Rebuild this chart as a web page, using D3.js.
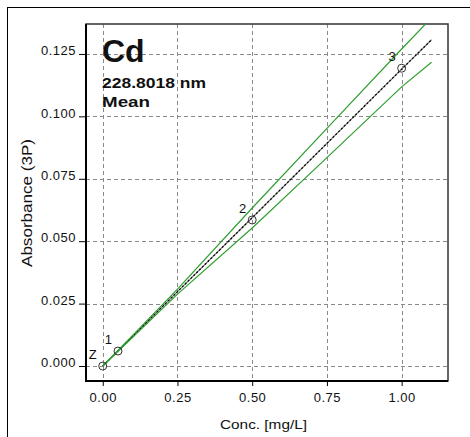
<!DOCTYPE html>
<html>
<head>
    <meta charset="UTF-8">
    <style>
        body { margin: 0; background: #fff; }
        text { font-family: "Liberation Sans", Arial, sans-serif; fill: #111; }
        .tick-label { font-size: 13px; letter-spacing: 0.5px; }
        .grid line { stroke: #8a8a8a; stroke-dasharray: 4,3; }
    </style>
</head>
<body>
<script src="https://cdn.jsdelivr.net/npm/d3@7/dist/d3.min.js"></script>
<script>
// standards
var pointLabels = ["Z", "1", "2", "3"];
var pointConc = [0.0, 0.051, 0.5, 1.0];
var pointAbs = [0.0, 0.006, 0.0585, 0.1193];

// calibration line and confidence limits
var lineConc = [0.0, 0.1, 0.25, 0.5, 0.75, 1.0, 1.1];
var lineAbs = [0.0, 0.0119, 0.0298, 0.0594, 0.0892, 0.1189, 0.1307];
var upperAbs = [0.0, 0.0123, 0.0308, 0.0633, 0.0952, 0.1270, 0.1395];
var lowerAbs = [0.0, 0.0115, 0.0288, 0.0553, 0.0835, 0.1118, 0.1217];

var xTicks = [0, 0.25, 0.5, 0.75, 1.0];
var yTicks = [0, 0.025, 0.05, 0.075, 0.1, 0.125];

var width = 470, height = 437;
var pL = 86, pR = 448, pT = 24, pB = 381;

var svg = d3.select("body").append("svg").attr("width", width).attr("height", height);

// outer window frame
svg.append("rect").attr("x", 7.5).attr("y", 7.5).attr("width", 480).attr("height", 450)
    .attr("fill", "#fff").attr("stroke", "#000").attr("stroke-width", 1);

var x = d3.scaleLinear().domain([-0.056, 1.155]).range([pL, pR]);
var y = d3.scaleLinear().domain([-0.006, 0.137]).range([pB, pT]);

svg.append("defs").append("clipPath").attr("id", "plot-clip")
    .append("rect").attr("x", pL).attr("y", pT).attr("width", pR - pL).attr("height", pB - pT);

// grid
var grid = svg.append("g").attr("class", "grid");
grid.selectAll(".vx").data(xTicks).enter().append("line")
    .attr("x1", function(d) { return Math.round(x(d)) + 0.5; })
    .attr("x2", function(d) { return Math.round(x(d)) + 0.5; })
    .attr("y1", pT).attr("y2", pB);
grid.selectAll(".hy").data(yTicks).enter().append("line")
    .attr("y1", function(d) { return Math.round(y(d)) + 0.5; })
    .attr("y2", function(d) { return Math.round(y(d)) + 0.5; })
    .attr("x1", pL).attr("x2", pR);

// axes
var xAxis = d3.axisBottom(x).tickValues(xTicks).tickSize(5).tickPadding(7)
    .tickFormat(d3.format(".2f"));
var yAxis = d3.axisLeft(y).tickValues(yTicks).tickSize(7).tickPadding(3)
    .tickFormat(d3.format(".3f"));

var gx = svg.append("g").attr("transform", "translate(0," + pB + ")").call(xAxis);
var gy = svg.append("g").attr("transform", "translate(" + pL + ",0)").call(yAxis);
[gx, gy].forEach(function(g) {
    g.select(".domain").remove();
    g.selectAll(".tick line").attr("stroke", "#000");
    g.selectAll(".tick text").attr("class", "tick-label").attr("fill", "#111")
        .style("font-family", "'Liberation Sans', Arial, sans-serif");
});
// y labels sit just above their tick
gy.selectAll(".tick text").attr("dy", "0.05em");

// plot frame
svg.append("rect").attr("x", pL).attr("y", pT).attr("width", pR - pL).attr("height", pB - pT)
    .attr("fill", "none").attr("stroke", "#333").attr("stroke-width", 1.5);
svg.append("path").attr("d", "M" + pL + "," + pT + "V" + pB + "H" + pR)
    .attr("fill", "none").attr("stroke", "#000").attr("stroke-width", 2);

var plot = svg.append("g").attr("clip-path", "url(#plot-clip)");

var line = d3.line()
    .x(function(d) { return x(d[0]); })
    .y(function(d) { return y(d[1]); });

plot.append("path").datum(d3.zip(lineConc, lineAbs)).attr("d", line)
    .attr("fill", "none").attr("stroke", "#777").attr("stroke-width", 1.2);
plot.append("path").datum(d3.zip(lineConc, lineAbs)).attr("d", line)
    .attr("fill", "none").attr("stroke", "#000").attr("stroke-width", 1.2).attr("stroke-dasharray", "2,2");

[upperAbs, lowerAbs].forEach(function(vals) {
    plot.append("path").datum(d3.zip(lineConc, vals)).attr("d", line)
        .attr("fill", "none").attr("stroke", "#2f9e2f").attr("stroke-width", 1.2);
});

// standard points
var pts = d3.zip(pointConc, pointAbs, pointLabels);
svg.append("g").selectAll("circle").data(pts).enter().append("circle")
    .attr("cx", function(d) { return x(d[0]); })
    .attr("cy", function(d) { return y(d[1]); })
    .attr("r", 4).attr("fill", "none").attr("stroke", "#333").attr("stroke-width", 1);
svg.append("g").selectAll("text").data(pts).enter().append("text")
    .attr("x", function(d) { return x(d[0]) - 6; })
    .attr("y", function(d) { return y(d[1]) - 7; })
    .attr("text-anchor", "end").style("font-size", "13px").attr("fill", "#222")
    .text(function(d) { return d[2]; });

// element header
svg.append("text").attr("x", 102).attr("y", 62).style("font-size", "32px").style("font-weight", "bold")
    .text("Cd");
svg.append("text").attr("x", 102).attr("y", 88).style("font-size", "15px").style("font-weight", "bold")
    .attr("textLength", 104).attr("lengthAdjust", "spacingAndGlyphs").text("228.8018 nm");
svg.append("text").attr("x", 102).attr("y", 107).style("font-size", "15px").style("font-weight", "bold")
    .attr("textLength", 48).attr("lengthAdjust", "spacingAndGlyphs").text("Mean");

// axis titles
svg.append("text").attr("x", 220).attr("y", 429)
    .style("font-size", "13px").attr("textLength", 87).attr("lengthAdjust", "spacingAndGlyphs")
    .text("Conc. [mg/L]");
svg.append("text").attr("transform", "translate(32,267) rotate(-90)")
    .style("font-size", "14px").attr("textLength", 128).attr("lengthAdjust", "spacingAndGlyphs")
    .text("Absorbance (3P)");
</script>
</body>
</html>
